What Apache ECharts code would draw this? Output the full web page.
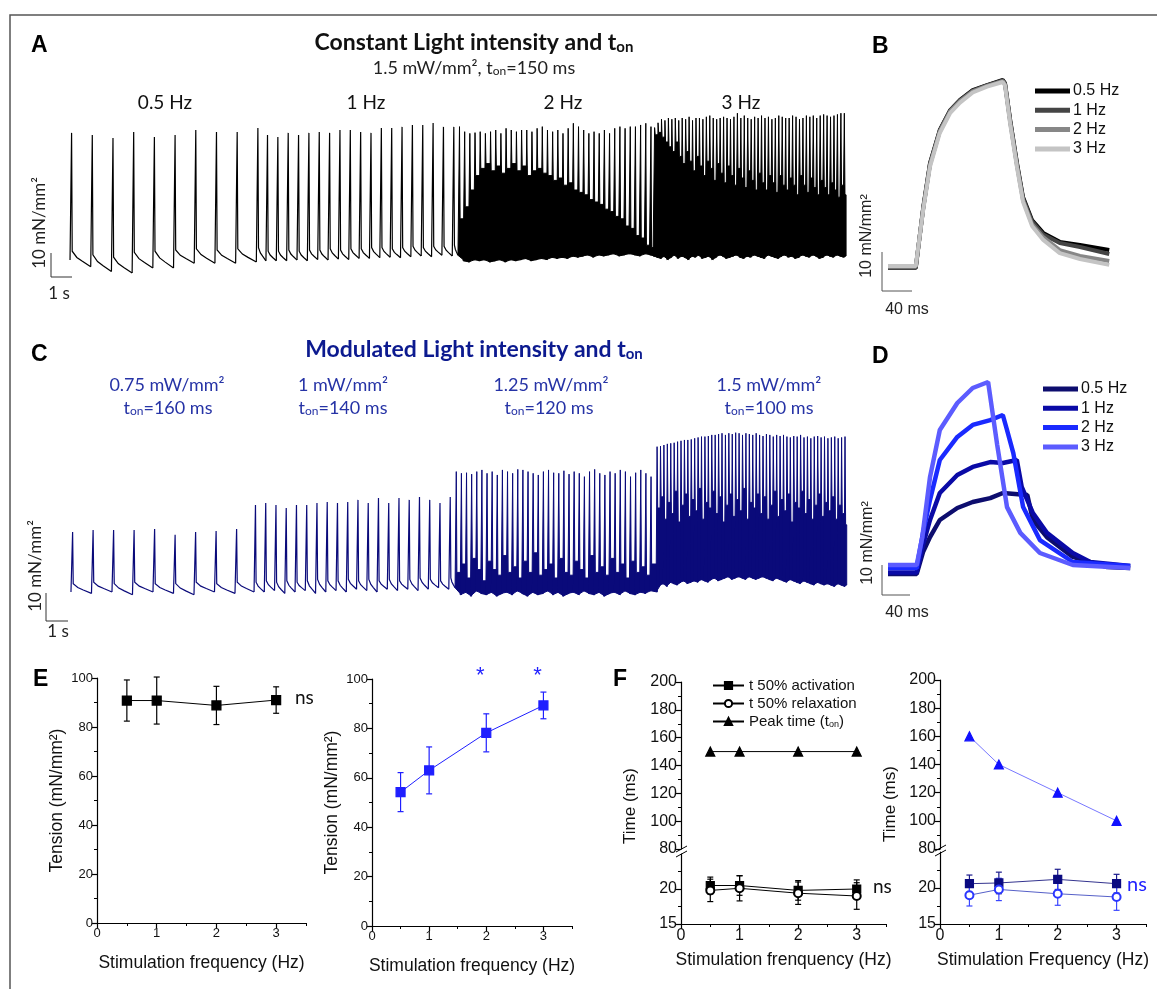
<!DOCTYPE html>
<html>
<head>
<meta charset="utf-8">
<title>Tension traces</title>
<script src="https://cdn.jsdelivr.net/npm/echarts@6/dist/echarts.min.js"></script>
<style>
  html, body { margin: 0; padding: 0; background: #fff; }
  #fig { width: 1157px; height: 989px; }
</style>
</head>
<body>
<div id="fig"></div>
<script>
// ---------- A / C : long recordings, one block per stimulation frequency ----------
// every beat is [peak, knee, trough] in mN/mm2 above the resting level
var blockFreq = [0.5, 1, 2, 3];

var constStart = [0.1, 19.03, 37.58, 56.43];   // s, first beat of each block
var constTon = [0.15, 0.15, 0.15, 0.15];       // s
var const05 = [[53.8,4.5,-2],[52.9,3,-4],[51.7,2,-4.6],[54.2,4,-2.5],[52.1,4.5,-2.5],[52.9,5,-0.5],[55,5.5,-0.5],[54.2,5,-0.5],[54.2,5.5,0],[55.8,6,0.5]];
var const1 = [[52.9,4.5,0.5],[52.1,4.5,0.5],[53.8,5,0.8],[52.9,4.5,0.5],[53.8,5,1],[54.2,5,0.8],[53.8,5.5,1.2],[55,5,1],[55,5.5,1.5],[54.2,5.5,1.5],
  [53.8,6,1.8],[55.8,6,2],[55.8,5.5,1.8],[56.3,6,2.2],[57.1,6.5,2.5],[57.1,6,2.2],[57.9,6.5,2.8],[56.3,6.5,2.5],[56.3,7,2.8]];
var const2 = [[56.4,18,0.5],[54.3,23,0],[53.6,30,1],[53.9,36,0.5],[54.3,39,1],[53.6,41,0],[54.3,38,0.5],[55,40,1],[53.6,37,0],[55.7,39,1],
  [55,41,0.5],[54.3,38,1],[55,40,1.5],[55,36,0.5],[54.3,38,1],[55.7,39,1.5],[56.4,37,1],[55,36,2],[54.3,34,1.5],[55,35,2],
  [53.6,32,1.5],[55.7,33,2.5],[57.8,30,2],[56.4,29,2.5],[55,28,3],[53.6,26,2],[54.3,25,3],[53.6,24,2.5],[55,22,3],[53.6,21,3.5],
  [55.7,19,2.5],[56.4,18,3],[55.7,15,3.5],[56.4,14,3],[56.4,11,2.5],[57.1,10,3.5],[57.8,7,3],[56.4,6,2.5]];
var const3 = [[56,53,2],[58,54,1.5],[59.5,52,2.5],[59,50,1],[60,48,2],[59.5,46,3],[60,50,1.5],[59,44,2.5],[60,41,2],[59.5,46,1],
  [60.5,42,2.5],[59,38,2],[60,44,3],[60,40,1.5],[59.5,36,2],[60.5,42,2.5],[61,39,1],[60,34,2],[59.5,41,3],[60,37,2.5],
  [60.5,33,1.5],[60,40,2],[59.5,36,2.5],[60.5,32,3],[62,39,2],[60,35,1.5],[61,31,2.5],[60,38,2],[59.5,34,3],[60.5,30,2.5],
  [60,37,2],[61,33,1.5],[60,30,3],[60.5,36,2.5],[59.5,33,2],[60,29,1.5],[61,36,2.5],[60.5,32,3],[60,30,2],[60,35,2.5],
  [61,32,1.5],[60.5,28,2],[59.5,36,3],[60,32,2.5],[61,29,2],[60.5,35,3],[61,31,2.5],[60,28,1.5],[61,34,2],[61.5,31,3],
  [61,28,2.5],[60.5,33,2],[61,30,3],[61.5,27,2.5],[62,32,2],[62,28,2.5]];

var modStart = [1.07, 18.93, 38.54, 58.15];
var modTon = [0.16, 0.14, 0.12, 0.10];
var mod05 = [[21.4,3,-0.5],[22.1,3.5,0],[22.1,3,-1],[22.1,3.5,0],[22.5,3,-0.5],[20.4,3,-1],[21.4,3.5,0],[21.8,3,-0.5],[22.5,3.5,0]];
var mod1 = [[31.1,3.5,0],[31.8,4,0.5],[31.1,3.5,-0.5],[30,4,0],[31.1,3.5,0.5],[31.1,4,-0.5],[31.8,4.5,0],[32.1,4,0.5],[31.8,4,0],[32.1,4.5,1],
  [32.9,4,0.5],[31.8,4.5,0],[33.6,4,1],[31.8,4.5,0.5],[33.6,4,1],[32.9,4.5,0.5],[33.9,5,1],[32.9,4.5,1.5],[31.8,4,1],[33.9,5,1.5]];
var mod2 = [[43,7,-1],[42.4,10,0],[42.6,5,-1.5],[42.1,12,0.5],[43,8,-0.5],[43.6,4,-1],[42.4,11,0],[43,8,-1.5],[41.8,6,-0.5],[43.6,13,0],
  [43,7,-1],[42.4,9,0.5],[43.8,5,-0.5],[43.6,11,-1.5],[43,7,0],[42.4,14,-1],[41.8,6,-0.5],[43,8,0.5],[43.6,10,-1],[42.6,5,0],
  [42.4,12,-1.5],[43.3,7,-0.5],[42.1,6,0],[43,11,-1],[42.4,8,0.5],[41.2,5,-0.5],[43,13,-1],[43.8,7,0],[42.4,9,-1.5],[41.8,6,-0.5],
  [43,12,0],[42.4,7,-1],[43.6,10,0.5],[43,5,-0.5],[41.2,11,-1],[42.6,7,0],[43.6,9,-0.5],[42.4,6,0.5],[41.2,10,0]];
var mod3 = [[51.9,30,2.5],[52.1,34,3],[52.5,26,2],[52.9,32,3.5],[53.1,28,3],[53.3,36,2.5],[53.7,25,3.5],[54,31,4],[54.3,35,3],[54.3,27,3.5],
  [54.5,33,4],[54.9,29,3.5],[55.2,37,4.5],[55.5,26,4],[55.5,32,3.5],[55.7,30,4.5],[56.1,36,5],[56.1,28,4],[56.4,34,4.5],[56.7,25,5],
  [56.1,31,5.5],[56.7,35,4.5],[56.4,27,5],[56.9,33,5.5],[56.7,29,5],[56.1,37,4.5],[56.7,26,5.5],[56.4,32,5],[56.1,30,4.5],[56.7,35,5],
  [56.1,28,5.5],[55.7,34,5],[56.4,26,4.5],[56.1,31,4],[55.5,36,5],[56.1,27,4.5],[55.7,33,4],[56.1,29,3.5],[55.5,35,4.5],[55.2,25,4],
  [55.7,32,3.5],[55.5,30,3],[56.1,36,4],[55.2,28,3.5],[55.5,33,3],[54.9,26,2.5],[55.5,31,3.5],[55.7,35,3],[55.2,27,2.5],[55.5,32,3],
  [54.9,29,2.5],[55.2,34,2],[55.5,26,3],[54.9,31,2.5],[55.2,28,2],[55.5,24,2.5]];

var decayT = [0, 0.25, 0.55, 1];
var decayF = [1, 0.6, 0.35, 0];

// ---------- B / D : superimposed single twitches (ms, mN/mm2) ----------
var twitchNames = ['0.5 Hz', '1 Hz', '2 Hz', '3 Hz'];
var bTime = [0, 37, 47, 56, 69, 83, 96, 113, 132, 153, 156, 163, 172, 180, 192, 207, 229, 256, 295];
var bConst05 = [0, 0, 15.6, 26.9, 35.4, 40.5, 43.1, 45.6, 46.9, 48.2, 47.4, 37.9, 26.9, 18.2, 12.3, 9.0, 6.7, 5.9, 4.6];
var bConst1 = [0, 0, 15.4, 26.7, 35.2, 40.4, 43.0, 45.5, 46.8, 48.1, 47.3, 37.6, 26.6, 17.9, 12.0, 8.6, 6.4, 5.4, 3.6];
var bConst2 = [0.3, 0.3, 15.2, 26.4, 35.0, 40.2, 42.8, 45.3, 46.7, 47.9, 47.0, 37.2, 26.2, 17.4, 11.3, 7.9, 4.6, 3.1, 1.8];
var bConst3 = [0.5, 0.5, 15.0, 26.0, 34.6, 39.8, 42.4, 45.0, 46.5, 47.7, 46.8, 36.8, 25.8, 17.0, 10.8, 7.2, 3.8, 2.3, 0.8];
var dMod05 = [[0,-2],[41,-2],[50,5.3],[60,10.3],[74,16],[99,20],[121,22],[146,23.3],[164,25],[199,24.3],[207,16],[227,10.3],[264,3.7],[313,0.3],[346,0]];
var dMod1 = [[0,-1.5],[41,-1.5],[50,7.7],[60,16],[74,25],[99,31],[121,33.7],[146,35.3],[164,35],[184,36],[191,27],[207,18.3],[227,11.7],[264,5],[289,2],[346,0.7]];
var dMod2 = [[0,0],[41,0],[50,11.7],[60,22.7],[74,36],[99,43.7],[121,47.7],[146,49.3],[164,51],[170,46],[179,38.3],[193,20.3],[217,9.3],[264,2],[346,0.7]];
var dMod3 = [[0,1],[41,1],[49,10.3],[60,30.3],[74,46],[99,55],[121,60],[143,62],[156,41],[170,20.3],[189,11.7],[217,5],[264,1],[346,0]];

// ---------- E / F : summary statistics ----------
var stimFreq = [0.5, 1, 2, 3];
var tensionConst = [90.8, 90.8, 88.8, 91.0];
var tensionConstErr = [8.4, 9.6, 7.8, 5.4];
var tensionMod = [54.2, 63.0, 78.2, 89.3];
var tensionModErr = [7.9, 9.5, 7.7, 5.4];
var signifFreq = [2, 3];

var actConst = [20.5, 20.5, 19.8, 20.0];
var actConstErr = [1.2, 1.4, 1.4, 1.3];
var relConst = [19.8, 20.1, 19.4, 19.0];
var relConstErr = [1.6, 1.8, 1.6, 1.9];
var peakConst = [150, 150, 150, 150];
var actMod = [20.6, 20.7, 21.2, 20.6];
var actModErr = [1.2, 1.5, 1.4, 1.3];
var relMod = [19.0, 19.8, 19.2, 18.75];
var relModErr = [1.5, 1.55, 1.6, 1.85];
var peakMod = [160, 140, 120, 100];

var greys = ['#000000', '#454545', '#878787', '#c4c4c4'];
var blues = ['#0d0d6e', '#0a0aa6', '#1a2aff', '#5c5cff'];
var navy = '#0a0a7a';
var blue = '#1f1fff';
var ink = '#000';

// turns the blocks into one row per beat: [t0, length, ton, start level, peak, knee, trough, dense]
function buildBeats(starts, tons, blocks, level) {
  var rows = [];
  blocks.forEach(function (blk, s) {
    var period = 1 / blockFreq[s];
    blk.forEach(function (b, i) {
      var t0 = starts[s] + i * period;
      var next;
      if (i < blk.length - 1) next = t0 + period;
      else if (s < blocks.length - 1) next = starts[s + 1];
      else next = t0 + period * 0.5;
      rows.push([t0, next - t0, tons[s], level, b[0], b[1], b[2], blockFreq[s] >= 2 ? 1 : 0]);
      level = b[2];
    });
  });
  return rows;
}

function beatRenderer(color) {
  var fall = 0.06;
  return function (params, api) {
    var t0 = api.value(0), len = api.value(1), ton = api.value(2), b0 = api.value(3);
    var pk = api.value(4), kn = api.value(5), tr = api.value(6), dense = api.value(7);
    var pts = [[t0, b0], [t0 + ton, pk], [t0 + ton + fall, kn]];
    if (dense) {
      pts.push([t0 + len + ton, kn], [t0 + len + ton, tr]);
      return {
        type: 'polygon',
        shape: { points: pts.map(function (p) { return api.coord(p); }) },
        style: { fill: color, stroke: color, lineWidth: 1 }
      };
    }
    var ts = t0 + ton + fall, span = t0 + len - ts;
    for (var k = 1; k < decayT.length; k++) {
      pts.push([ts + span * decayT[k], tr + (kn - tr) * decayF[k]]);
    }
    return {
      type: 'polyline',
      shape: { points: pts.map(function (p) { return api.coord(p); }) },
      style: { stroke: color, fill: null, lineWidth: 1.2 }
    };
  };
}

var xAxes = [], yAxes = [], series = [];
function addX(o) { xAxes.push(o); return xAxes.length - 1; }
function addY(o) { yAxes.push(o); return yAxes.length - 1; }

var grids = [
  { left: 69, top: 100, width: 778, height: 180 },      // 0 A
  { left: 888, top: 59.74, width: 224, height: 219.96 }, // 1 B
  { left: 60, top: 420, width: 790, height: 200 },      // 2 C
  { left: 888, top: 370, width: 250, height: 219 },     // 3 D
  { left: 97, top: 678, width: 209, height: 245 },      // 4 E const
  { left: 372, top: 679, width: 200, height: 247 },     // 5 E mod
  { left: 681, top: 682, width: 205, height: 167 },     // 6 F const, upper
  { left: 681, top: 854, width: 205, height: 70 },      // 7 F const, lower
  { left: 940, top: 680, width: 206, height: 169 },     // 8 F mod, upper
  { left: 940, top: 852, width: 206, height: 72 }       // 9 F mod, lower
];

// hidden axes for the traces
function bareAxes(g, x0, x1, y0, y1) {
  return [addX({ gridIndex: g, type: 'value', min: x0, max: x1, show: false }),
          addY({ gridIndex: g, type: 'value', min: y0, max: y1, show: false })];
}
var axA = bareAxes(0, 0, 75.17, -7.5, 67.5);
var axB = bareAxes(1, 0, 298.67, -3, 53.4);
var axC = bareAxes(2, 0, 77.07, -10, 61.43);
var axD = bareAxes(3, 0, 357.1, -7, 66);

series.push({
  type: 'custom', xAxisIndex: axA[0], yAxisIndex: axA[1], silent: true,
  data: buildBeats(constStart, constTon, [const05, const1, const2, const3], 0.8),
  renderItem: beatRenderer(ink)
});
series.push({
  type: 'custom', xAxisIndex: axC[0], yAxisIndex: axC[1], silent: true,
  data: buildBeats(modStart, modTon, [mod05, mod1, mod2, mod3], 0),
  renderItem: beatRenderer(navy)
});

[bConst05, bConst1, bConst2, bConst3].forEach(function (v, i) {
  series.push({
    type: 'line', name: 'B ' + twitchNames[i], xAxisIndex: axB[0], yAxisIndex: axB[1],
    data: bTime.map(function (t, k) { return [t, v[k]]; }),
    showSymbol: false, silent: true, lineStyle: { color: greys[i], width: 4 }
  });
});
[dMod05, dMod1, dMod2, dMod3].forEach(function (v, i) {
  series.push({
    type: 'line', name: 'D ' + twitchNames[i], xAxisIndex: axD[0], yAxisIndex: axD[1],
    data: v, showSymbol: false, silent: true, lineStyle: { color: blues[i], width: 4.5 }
  });
});

// ---------- summary plot axes ----------
var tickFont = 'Liberation Sans';
function freqAxes(g, labelSize, name) {
  var main = addX({
    gridIndex: g, type: 'value', min: 0, max: 3.5, position: 'bottom',
    axisLine: { onZero: false, lineStyle: { color: ink, width: 1.2 } },
    axisTick: { customValues: [0, 1, 2, 3], length: 5, lineStyle: { color: ink, width: 1.2 } },
    axisLabel: { customValues: [0, 1, 2, 3], fontSize: labelSize, color: '#111', fontFamily: tickFont, margin: 4 },
    splitLine: { show: false },
    name: name, nameLocation: 'middle', nameGap: labelSize > 14 ? 27 : 31,
    nameTextStyle: { fontSize: 17.5, fontFamily: tickFont, color: '#111' }
  });
  addX({
    gridIndex: g, type: 'value', min: 0, max: 3.5, position: 'bottom',
    axisLine: { show: false }, axisLabel: { show: false }, splitLine: { show: false },
    axisTick: { customValues: [0.5, 1.5, 2.5, 3.5], length: 3, lineStyle: { color: ink, width: 1 } }
  });
  return main;
}
function valueAxis(g, min, max, step, labelSize, extra) {
  var o = {
    gridIndex: g, type: 'value', min: min, max: max, interval: step,
    axisLine: { show: true, lineStyle: { color: ink, width: 1.2 } },
    axisTick: { show: true, length: 5, lineStyle: { color: ink, width: 1.2 } },
    minorTick: { show: true, splitNumber: 2, length: 3, lineStyle: { color: ink, width: 1 } },
    axisLabel: { fontSize: labelSize, color: '#111', fontFamily: tickFont, margin: 4 },
    splitLine: { show: false }
  };
  for (var k in extra) o[k] = extra[k];
  return addY(o);
}

var tensionName = { name: 'Tension (mN/mm²)', nameLocation: 'middle', nameGap: 31,
  nameTextStyle: { fontSize: 17.5, fontFamily: tickFont, color: '#111' } };
var xE1 = freqAxes(4, 13, 'Stimulation frequency (Hz)');
var yE1 = valueAxis(4, 0, 100, 20, 13, tensionName);
var xE2 = freqAxes(5, 13, 'Stimulation frequency (Hz)');
var yE2 = valueAxis(5, 0, 100, 20, 13, tensionName);

var xF1u = addX({ gridIndex: 6, type: 'value', min: 0, max: 3.5, show: false });
var yF1u = valueAxis(6, 80, 200, 20, 16, {});
var xF1 = freqAxes(7, 16, 'Stimulation frenquency (Hz)');
var lowerTicks = { axisTick: { customValues: [15, 20], length: 5, lineStyle: { color: ink, width: 1.2 } } };
var yF1 = valueAxis(7, 15, 25, 5, 16, lowerTicks);
var xF2u = addX({ gridIndex: 8, type: 'value', min: 0, max: 3.5, show: false });
var yF2u = valueAxis(8, 80, 200, 20, 16, {});
var xF2 = freqAxes(9, 16, 'Stimulation Frequency (Hz)');
var yF2 = valueAxis(9, 15, 25, 5, 16, lowerTicks);
[yF1, yF2].forEach(function (i) {
  yAxes[i].axisLabel.customValues = [15, 20];
});

function pairs(ys) { return stimFreq.map(function (x, i) { return [x, ys[i]]; }); }
function meanLine(name, xi, yi, ys, symbol, size, color, lineColor) {
  series.push({
    type: 'line', name: name, xAxisIndex: xi, yAxisIndex: yi, data: pairs(ys),
    symbol: symbol, symbolSize: size, showSymbol: true, z: 4,
    itemStyle: { color: color, borderColor: color, borderWidth: 1.2 },
    lineStyle: { color: lineColor || color, width: 1 }
  });
}
function errorBars(xi, yi, ys, es, color) {
  series.push({
    type: 'custom', xAxisIndex: xi, yAxisIndex: yi, z: 3, silent: true,
    data: stimFreq.map(function (x, i) { return [x, ys[i], es[i]]; }),
    renderItem: function (p, api) {
      var x = api.value(0), m = api.value(1), e = api.value(2);
      var hi = api.coord([x, m + e]), lo = api.coord([x, m - e]), w = 3;
      var st = { stroke: color, lineWidth: 1.2 };
      return { type: 'group', children: [
        { type: 'line', shape: { x1: hi[0], y1: hi[1], x2: lo[0], y2: lo[1] }, style: st },
        { type: 'line', shape: { x1: hi[0] - w, y1: hi[1], x2: hi[0] + w, y2: hi[1] }, style: st },
        { type: 'line', shape: { x1: lo[0] - w, y1: lo[1], x2: lo[0] + w, y2: lo[1] }, style: st }
      ] };
    }
  });
}

errorBars(xE1, yE1, tensionConst, tensionConstErr, ink);
meanLine('Tension const', xE1, yE1, tensionConst, 'rect', 9, ink);
errorBars(xE2, yE2, tensionMod, tensionModErr, blue);
meanLine('Tension mod', xE2, yE2, tensionMod, 'rect', 9, blue);
series.push({
  type: 'custom', xAxisIndex: xE2, yAxisIndex: yE2, silent: true,
  data: signifFreq.map(function (x) { return [x, 103]; }),
  renderItem: function (p, api) {
    var c = api.coord([api.value(0), api.value(1)]);
    return { type: 'text', x: c[0] - 6, y: c[1] + 4, style: { text: '*', fontSize: 22, fontFamily: tickFont,
      fill: blue, align: 'center', verticalAlign: 'middle' } };
  }
});

errorBars(xF1, yF1, actConst, actConstErr, ink);
errorBars(xF1, yF1, relConst, relConstErr, ink);
meanLine('t 50% activation', xF1, yF1, actConst, 'rect', 8, ink);
meanLine('t 50% relaxation', xF1, yF1, relConst, 'emptyCircle', 8, ink);
meanLine('Peak time', xF1u, yF1u, peakConst, 'triangle', 9, ink);

errorBars(xF2, yF2, actMod, actModErr, '#1a1a8c');
errorBars(xF2, yF2, relMod, relModErr, '#3a46ff');
meanLine('mod activation', xF2, yF2, actMod, 'rect', 8, '#0a0a80', '#34348f');
meanLine('mod relaxation', xF2, yF2, relMod, 'emptyCircle', 8, '#2a36ff', '#5660c8');
meanLine('mod peak', xF2u, yF2u, peakMod, 'triangle', 9, '#1010ff', '#7878ff');

// ---------- text and annotations ----------
function txt(x, y, text, size, family, color, extra) {
  var st = { text: text, fontSize: size, fontFamily: family, fill: color || '#111',
    align: 'center', verticalAlign: 'middle' };
  var el = { type: 'text', x: x, y: y, silent: true, style: st };
  if (extra) {
    if (extra.rotation) el.rotation = extra.rotation;
    ['fontWeight', 'align', 'rich'].forEach(function (k) { if (extra[k] !== undefined) st[k] = extra[k]; });
  }
  return el;
}
function sub(size, weight, color) {
  return { s: { fontSize: size, fontFamily: 'Lato', fontWeight: weight || 'normal', fill: color, verticalAlign: 'bottom' } };
}
function seg(x1, y1, x2, y2, color, w) {
  return { type: 'line', silent: true, shape: { x1: x1, y1: y1, x2: x2, y2: y2 },
    style: { stroke: color || ink, lineWidth: w || 1 } };
}
var up = Math.PI / 2;
var titleBlue = '#0c1a8f', labelBlue = '#2633a6';
var g = [
  { type: 'polyline', silent: true, shape: { points: [[10, 989], [10, 15], [1157, 15]] },
    style: { stroke: '#555', lineWidth: 1.5, fill: null } },
  txt(31, 46, 'A', 23, 'Liberation Sans', ink, { fontWeight: 'bold', align: 'left' }),
  txt(872, 47, 'B', 23, 'Liberation Sans', ink, { fontWeight: 'bold', align: 'left' }),
  txt(31, 355, 'C', 23, 'Liberation Sans', ink, { fontWeight: 'bold', align: 'left' }),
  txt(872, 357, 'D', 23, 'Liberation Sans', ink, { fontWeight: 'bold', align: 'left' }),
  txt(33, 680, 'E', 23, 'Liberation Sans', ink, { fontWeight: 'bold', align: 'left' }),
  txt(613, 680, 'F', 23, 'Liberation Sans', ink, { fontWeight: 'bold', align: 'left' }),

  txt(474, 43, 'Constant Light intensity and t{s|on}', 23, 'Lato', '#111', { fontWeight: 'bold', rich: sub(15, 'bold', '#111') }),
  txt(474, 68, '1.5 mW/mm², t{s|on}=150 ms', 18, 'Lato', '#222', { rich: sub(12, 'normal', '#222') }),
  txt(165, 103, '0.5 Hz', 19, 'Lato', '#111'),
  txt(366, 103, '1 Hz', 19, 'Lato', '#111'),
  txt(563, 103, '2 Hz', 19, 'Lato', '#111'),
  txt(741, 103, '3 Hz', 19, 'Lato', '#111'),
  seg(51, 253, 51, 277, '#333'), seg(51, 277, 72, 277, '#333'),
  txt(40, 223, '10 mN/mm²', 17, 'Lato', '#222', { rotation: up }),
  txt(59, 294, '1 s', 17, 'Lato', '#222'),

  seg(882, 252, 882, 291, '#555'), seg(882, 291, 912, 291, '#555'),
  txt(867, 236, '10 mN/mm²', 16, 'Liberation Sans', '#222', { rotation: up }),
  txt(907, 310, '40 ms', 16, 'Liberation Sans', '#222'),

  txt(474, 350, 'Modulated Light intensity and t{s|on}', 23, 'Lato', titleBlue, { fontWeight: 'bold', rich: sub(15, 'bold', titleBlue) }),
  txt(167, 385, '0.75 mW/mm²', 18, 'Lato', labelBlue),
  txt(168, 408, 't{s|on}=160 ms', 18, 'Lato', labelBlue, { rich: sub(12, 'normal', labelBlue) }),
  txt(343, 385, '1 mW/mm²', 18, 'Lato', labelBlue),
  txt(343, 408, 't{s|on}=140 ms', 18, 'Lato', labelBlue, { rich: sub(12, 'normal', labelBlue) }),
  txt(551, 385, '1.25 mW/mm²', 18, 'Lato', labelBlue),
  txt(549, 408, 't{s|on}=120 ms', 18, 'Lato', labelBlue, { rich: sub(12, 'normal', labelBlue) }),
  txt(769, 385, '1.5 mW/mm²', 18, 'Lato', labelBlue),
  txt(769, 408, 't{s|on}=100 ms', 18, 'Lato', labelBlue, { rich: sub(12, 'normal', labelBlue) }),
  seg(46, 593, 46, 621, '#333'), seg(46, 621, 68, 621, '#333'),
  txt(36, 566, '10 mN/mm²', 17, 'Lato', '#222', { rotation: up }),
  txt(58, 632, '1 s', 17, 'Lato', '#222'),

  seg(882, 565, 882, 595, '#555'), seg(882, 595, 910, 595, '#555'),
  txt(868, 543, '10 mN/mm²', 16, 'Liberation Sans', '#222', { rotation: up }),
  txt(907, 613, '40 ms', 16, 'Liberation Sans', '#222'),

  txt(295, 698, 'ns', 19, 'Lato', '#111', { align: 'left' }),
  txt(873, 887, 'ns', 19, 'Lato', '#111', { align: 'left' }),
  txt(1127, 885, 'ns', 20, 'Lato', blue, { align: 'left' }),
  txt(630, 806, 'Time (ms)', 17, 'Liberation Sans', '#111', { rotation: up }),
  txt(890, 804, 'Time (ms)', 17, 'Liberation Sans', '#111', { rotation: up }),
  seg(676, 852, 687, 846), seg(676, 857, 687, 851),
  seg(935, 851, 946, 845), seg(935, 856, 946, 850)
];
// legends of B and D
[[greys, 91, 1035], [blues, 389, 1043]].forEach(function (L) {
  twitchNames.forEach(function (n, i) {
    var y = L[1] + i * 19.3;
    g.push(seg(L[2], y, L[2] + 35, y, L[0][i], 5));
    g.push(txt(L[2] + 38, y, n, 16, 'Liberation Sans', '#111', { align: 'left' }));
  });
});

var chart = echarts.init(document.getElementById('fig'));
chart.setOption({
  animation: false,
  backgroundColor: '#fff',
  grid: grids,
  xAxis: xAxes,
  yAxis: yAxes,
  legend: {
    data: ['t 50% activation', 't 50% relaxation', 'Peak time'],
    left: 707, top: 673, orient: 'vertical', itemWidth: 31, itemHeight: 9, itemGap: 3,
    selectedMode: false,
    formatter: function (n) { return n === 'Peak time' ? 'Peak time (t{s|on})' : n; },
    textStyle: { fontSize: 15, fontFamily: tickFont, color: '#111',
      rich: { s: { fontSize: 9, fontFamily: tickFont, verticalAlign: 'bottom' } } }
  },
  series: series,
  graphic: g
});
</script>
</body>
</html>
